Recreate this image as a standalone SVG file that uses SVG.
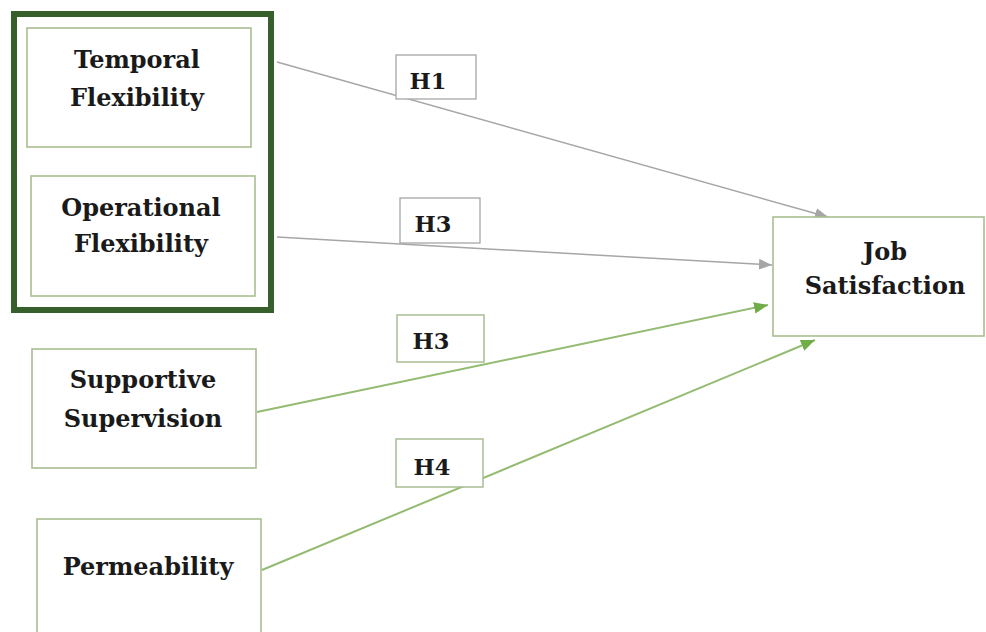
<svg xmlns="http://www.w3.org/2000/svg" width="986" height="632" viewBox="0 0 986 632">
<defs>
<marker id="ag" viewBox="0 0 12 10" refX="12" refY="5" markerWidth="13" markerHeight="11" markerUnits="userSpaceOnUse" orient="auto"><path d="M0,0 L12,5 L0,10 z" fill="#a6a6a6"/></marker>
<marker id="agr" viewBox="0 0 12 10" refX="12" refY="5" markerWidth="14" markerHeight="12" markerUnits="userSpaceOnUse" orient="auto"><path d="M0,0 L12,5 L0,10 z" fill="#70ad47"/></marker>
</defs>
<style>
.node{fill:#fff;stroke:#a9bd92;stroke-width:1.6}
.t{font-family:"DejaVu Serif","Liberation Serif",serif;font-weight:bold;font-size:24px;fill:#1a1a1a;text-anchor:middle}
.h{font-size:22.5px}
.lg{fill:#fff;stroke:#a6a6a6;stroke-width:1.3}
.lgr{fill:#fff;stroke:#a9bd92;stroke-width:1.5}
.cg{stroke:#a6a6a6;stroke-width:1.5;fill:none}
.cgr{stroke:#93bb72;stroke-width:2;fill:none}
</style>
<rect width="986" height="632" fill="#fff"/>
<g id="connectors">
<line class="cg" x1="277" y1="62" x2="828" y2="217" marker-end="url(#ag)"/>
<line class="cg" x1="277" y1="237" x2="772" y2="265" marker-end="url(#ag)"/>
<line class="cgr" x1="257" y1="412" x2="768" y2="305" marker-end="url(#agr)"/>
<line class="cgr" x1="262" y1="570" x2="815" y2="340" marker-end="url(#agr)"/>
</g>
<g id="group-flex">
<rect x="14" y="14" width="257" height="296" fill="none" stroke="#375f2b" stroke-width="6"/>
</g>
<g id="temporal">
<rect class="node" x="27" y="28" width="224" height="119"/>
<text class="t" x="137" y="68">Temporal</text>
<text class="t" x="137" y="106">Flexibility</text>
</g>
<g id="operational">
<rect class="node" x="31" y="176" width="224" height="120"/>
<text class="t" x="141" y="216">Operational</text>
<text class="t" x="141" y="252">Flexibility</text>
</g>
<g id="supportive">
<rect class="node" x="32" y="349" width="224" height="119"/>
<text class="t" x="143" y="388">Supportive</text>
<text class="t" x="143" y="427">Supervision</text>
</g>
<g id="permeability">
<rect class="node" x="37" y="519" width="224" height="130"/>
<text class="t" x="148" y="575">Permeability</text>
</g>
<g id="job">
<rect class="node" x="773" y="217" width="211" height="119"/>
<text class="t" x="885" y="260">Job</text>
<text class="t" x="885" y="294">Satisfaction</text>
</g>
<g id="h1">
<rect class="lg" x="396" y="55" width="80" height="44"/>
<text class="t h" x="428" y="89">H1</text>
</g>
<g id="h3a">
<rect class="lg" x="400" y="198" width="80" height="45"/>
<text class="t h" x="433" y="232">H3</text>
</g>
<g id="h3b">
<rect class="lgr" x="397" y="315" width="87" height="47"/>
<text class="t h" x="431" y="349">H3</text>
</g>
<g id="h4">
<rect class="lgr" x="396" y="439" width="87" height="48"/>
<text class="t h" x="432" y="475">H4</text>
</g>
</svg>
